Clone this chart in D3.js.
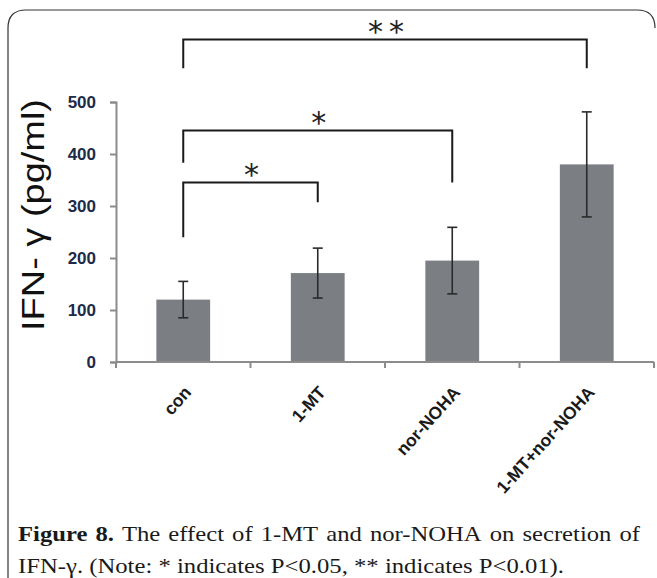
<!DOCTYPE html>
<html>
<head>
<meta charset="utf-8">
<script src="https://d3js.org/d3.v7.min.js"></script>
<style>
  body { margin: 0; background: #fff; }
</style>
</head>
<body>
<svg id="chart" width="657" height="578"></svg>
<script>
const groups = ["con", "1-MT", "nor-NOHA", "1-MT+nor-NOHA"];
const means = [120, 171, 195, 380];
const errs = [35, 48, 64, 101];
const yTicks = [0, 100, 200, 300, 400, 500];
// significance brackets: from group, to group, height (data units), label
const sigFrom = ["con", "con", "con"];
const sigTo = ["1-MT", "nor-NOHA", "1-MT+nor-NOHA"];
const sigY = [345, 445, 620];
const sigLabel = ["*", "*", "**"];
const sigDropL = [105, 62, 55];
const sigDropR = [38, 100, 55];
const captionBold = "Figure 8.";
const captionLine1 = "The effect of 1-MT and nor-NOHA on secretion of";
const captionLine2 = "IFN-\u03b3. (Note: * indicates P<0.05, ** indicates P<0.01).";

const svg = d3.select("svg#chart");

// frame
svg.append("path")
   .attr("d", "M8,600 L8,28 Q8,10 26,10 L637,10 Q655,10 655,28")
   .attr("fill", "none").attr("stroke", "#333").attr("stroke-width", 1.2);

const x = d3.scaleBand().domain(groups).range([116, 654]).paddingInner(0.6).paddingOuter(0.3);
const y = d3.scaleLinear().domain([0, 500]).range([362, 102]);

const layer = svg.append("g");

// bars
layer.selectAll("rect.bar").data(groups)
  .join("rect")
  .attr("class", "bar")
  .attr("x", d => x(d))
  .attr("width", x.bandwidth())
  .attr("y", (d, i) => y(means[i]))
  .attr("height", (d, i) => y(0) - y(means[i]))
  .attr("fill", "#7b7f84");

// error bars
const eb = layer.selectAll("g.err").data(groups).join("g").attr("class", "err")
  .attr("transform", d => `translate(${x(d) + x.bandwidth() / 2},0)`);
eb.append("line")
  .attr("y1", (d, i) => y(means[i] + errs[i])).attr("y2", (d, i) => y(means[i] - errs[i]))
  .attr("stroke", "#2a2a2a").attr("stroke-width", 1.6);
eb.append("line").attr("x1", -5).attr("x2", 5)
  .attr("y1", (d, i) => y(means[i] + errs[i])).attr("y2", (d, i) => y(means[i] + errs[i]))
  .attr("stroke", "#2a2a2a").attr("stroke-width", 1.6);
eb.append("line").attr("x1", -5).attr("x2", 5)
  .attr("y1", (d, i) => y(means[i] - errs[i])).attr("y2", (d, i) => y(means[i] - errs[i]))
  .attr("stroke", "#2a2a2a").attr("stroke-width", 1.6);

// y axis
const yAxis = svg.append("g")
  .attr("transform", "translate(116,0)")
  .call(d3.axisLeft(y).tickValues(yTicks).tickSize(6).tickSizeOuter(6).tickPadding(14));
yAxis.select(".domain").attr("stroke", "#8c8c8c").attr("stroke-width", 2);
yAxis.selectAll(".tick line").attr("stroke", "#8c8c8c").attr("stroke-width", 2);
yAxis.selectAll(".tick text")
  .attr("fill", "#1d2a48")
  .attr("font-family", "'Liberation Sans', Arial, sans-serif")
  .attr("font-weight", "bold")
  .attr("font-size", 17);

// x axis
const boundaries = [116].concat(groups.map(g => x(g) + x.bandwidth() / 2 + x.step() / 2));
const xAxis = svg.append("g");
xAxis.append("line").attr("x1", 116).attr("x2", 654).attr("y1", y(0)).attr("y2", y(0))
  .attr("stroke", "#8c8c8c").attr("stroke-width", 2);
xAxis.selectAll("line.tk").data(boundaries).join("line").attr("class", "tk")
  .attr("x1", d => d).attr("x2", d => d).attr("y1", y(0)).attr("y2", y(0) + 6)
  .attr("stroke", "#8c8c8c").attr("stroke-width", 2);
xAxis.selectAll("text.xl").data(groups).join("text").attr("class", "xl")
  .attr("transform", d => `translate(${x(d) + x.bandwidth() / 2 + 9},393) rotate(-48)`)
  .attr("text-anchor", "end")
  .attr("fill", "#1a1a1a")
  .attr("font-family", "'Liberation Sans', Arial, sans-serif")
  .attr("font-weight", "bold")
  .attr("font-size", 17.5)
  .text(d => d);

// y label
svg.append("text")
  .attr("transform", "translate(44,215) rotate(-90)")
  .attr("text-anchor", "middle")
  .attr("font-family", "'Liberation Sans', Arial, sans-serif")
  .attr("font-size", 31)
  .attr("textLength", 232).attr("lengthAdjust", "spacingAndGlyphs")
  .attr("fill", "#111")
  .text("IFN- \u03b3 (pg/ml)");

// significance brackets
const cx = g => x(g) + x.bandwidth() / 2;
sigFrom.forEach((f, i) => {
  const x1 = cx(f), x2 = cx(sigTo[i]), yy = y(sigY[i]);
  svg.append("path")
    .attr("d", `M${x1},${yy + sigDropL[i] * 0.52} V${yy} H${x2} V${yy + sigDropR[i] * 0.52}`)
    .attr("fill", "none").attr("stroke", "#1a1a1a").attr("stroke-width", 2);
  svg.append("text")
    .attr("x", (x1 + x2) / 2 + 4).attr("y", yy + 2)
    .attr("text-anchor", "middle")
    .attr("font-family", "'DejaVu Sans', sans-serif")
    .attr("font-size", 30)
    .attr("letter-spacing", 6)
    .attr("fill", "#222")
    .text(sigLabel[i]);
});

// caption: line 1 justified word by word, line 2 natural
const cap = svg.append("g")
  .attr("font-family", "'Liberation Serif', 'Times New Roman', serif")
  .attr("font-size", 22).attr("fill", "#1a1a1a");
const l2 = cap.append("text").attr("x", 18).attr("y", 573).text(captionLine2);
l2.attr("textLength", 546).attr("lengthAdjust", "spacingAndGlyphs");
const wordList = captionBold.split(" ").map(w => ({w, b: true}))
  .concat(captionLine1.split(" ").map(w => ({w, b: false})));
const wnodes = wordList.map(o => cap.append("text").attr("y", 541)
  .attr("font-weight", o.b ? "bold" : "normal").text(o.w));
const widths = wnodes.map(n => n.node().getComputedTextLength());
const total = d3.sum(widths);
const avail = 622;
const sx = total > avail - 10 * (wnodes.length - 1) ? (avail - 6 * (wnodes.length - 1)) / total : 1.12;
const gap = (avail - total * sx) / (wnodes.length - 1);
let cur = 18;
wnodes.forEach((n, i) => {
  n.attr("x", cur).attr("textLength", widths[i] * sx).attr("lengthAdjust", "spacingAndGlyphs");
  cur += widths[i] * sx + gap;
});
</script>
</body>
</html>
